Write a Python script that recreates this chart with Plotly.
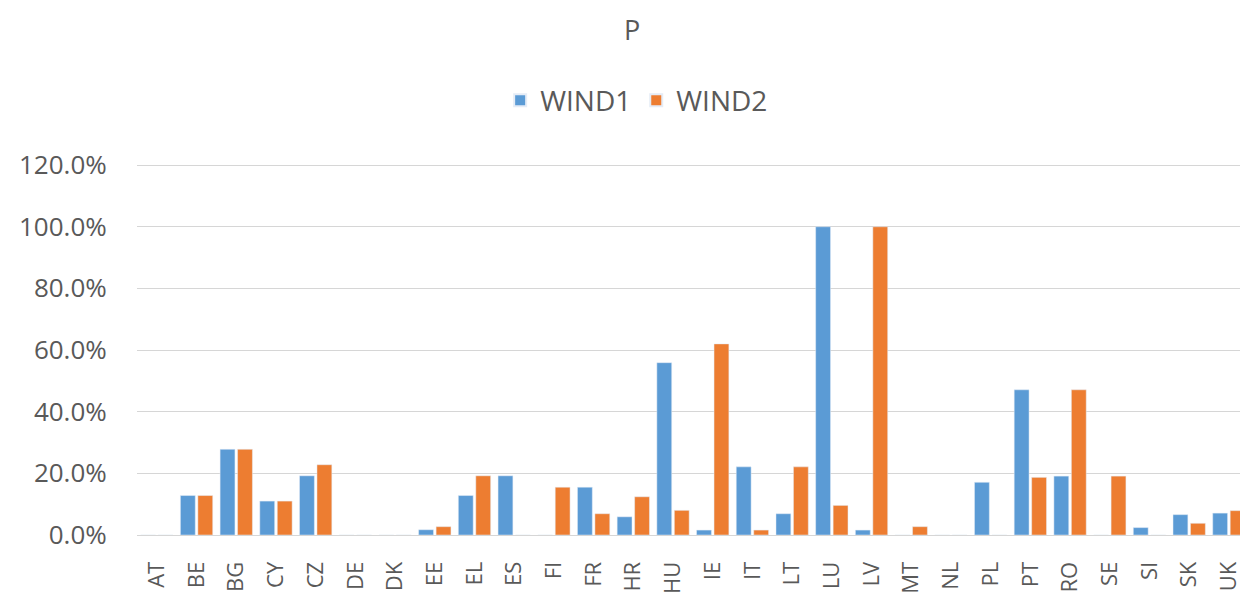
import plotly.graph_objects as go

# Country codes on the category axis
countries = ["AT", "BE", "BG", "CY", "CZ", "DE", "DK", "EE", "EL", "ES",
             "FI", "FR", "HR", "HU", "IE", "IT", "LT", "LU", "LV", "MT",
             "NL", "PL", "PT", "RO", "SE", "SI", "SK", "UK"]

# Shares per country (fractions of 1)
wind1 = [0.0, 0.128, 0.278, 0.110, 0.192, 0.0, 0.0, 0.017, 0.128, 0.192,
         0.0, 0.155, 0.059, 0.559, 0.016, 0.221, 0.069, 1.0, 0.016, 0.0,
         0.0, 0.171, 0.471, 0.191, 0.0, 0.024, 0.066, 0.071]
wind2 = [0.0, 0.128, 0.278, 0.110, 0.228, 0.0, 0.0, 0.027, 0.192, 0.0,
         0.155, 0.069, 0.124, 0.080, 0.620, 0.016, 0.221, 0.096, 1.0, 0.027,
         0.0, 0.0, 0.187, 0.471, 0.191, 0.0, 0.038, 0.079]

y_ticks = [0, 0.2, 0.4, 0.6, 0.8, 1.0, 1.2]

FONT = "Open Sans"
TEXT = "#595959"
GRID = "#d6d6d6"

fig = go.Figure()
fig.add_trace(go.Bar(x=countries, y=wind1, name="WIND1", marker_color="#5B9BD5"))
fig.add_trace(go.Bar(x=countries, y=wind2, name="WIND2", marker_color="#ED7D31"))

fig.update_layout(
    width=1240,
    height=592,
    margin=dict(l=137, r=0, t=162, b=57, autoexpand=False),
    paper_bgcolor="white",
    plot_bgcolor="white",
    barmode="group",
    bargap=0.12,
    bargroupgap=0.15,
    font=dict(family=FONT, color=TEXT, size=24),
    title=dict(text="P", x=632 / 1240, xanchor="center", xref="container",
               y=1 - 31 / 592, yanchor="middle", yref="container",
               font=dict(size=27, color=TEXT, family=FONT)),
    legend=dict(orientation="h", x=0.453, xanchor="center", y=1.165,
                yanchor="middle", font=dict(size=28, color=TEXT, family=FONT),
                itemsizing="constant", traceorder="normal"),
    showlegend=True,
)

fig.update_xaxes(
    type="category",
    range=[-0.5, 27.28],
    tickangle=-90,
    ticks="outside",
    ticklen=17,
    tickcolor="rgba(0,0,0,0)",
    tickfont=dict(size=22, color=TEXT, family=FONT),
    showgrid=False,
    showline=False,
    automargin=False,
)

fig.update_yaxes(
    range=[0, 1.21],
    tickvals=y_ticks,
    tickformat=".1%",
    ticks="outside",
    ticklen=24,
    tickcolor="rgba(0,0,0,0)",
    tickfont=dict(size=26, color=TEXT, family=FONT),
    showgrid=True,
    gridcolor=GRID,
    gridwidth=1.2,
    zeroline=True,
    zerolinecolor=GRID,
    zerolinewidth=1.2,
    showline=False,
    automargin=False,
)

fig.write_html("out.html")
